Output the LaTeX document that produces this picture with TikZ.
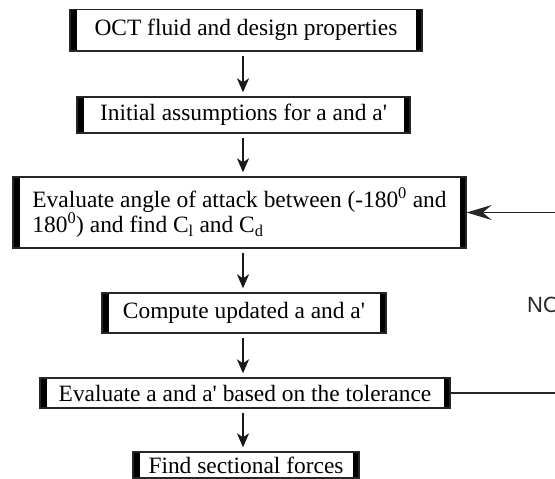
\documentclass[tikz,border=0pt]{standalone}
\usepackage{fontspec}
\setmainfont{Liberation Serif}
\newfontfamily\nofont{Liberation Sans}
\usetikzlibrary{arrows.meta}
\newcommand{\apos}{\textquotesingle}
\begin{document}
\begin{tikzpicture}[x=1pt,y=-1pt,
  txt/.style={font=\fontsize{23.4}{25.5}\selectfont},
  box/.style={txt, draw=black!85, line width=1.3pt, inner sep=0pt, fill=white,
    path picture={
      \fill[black] (path picture bounding box.north west) rectangle ([xshift=6.5pt]path picture bounding box.south west);
      \fill[black] ([xshift=-6.5pt]path picture bounding box.north east) rectangle (path picture bounding box.south east);}},
  flow/.style={-{Stealth[length=14pt,width=12pt,inset=4pt]}, line width=2.2pt, draw=black!90, shorten <=4pt, shorten >=4pt},
  loopline/.style={-{Stealth[length=25pt,width=15pt,inset=9pt]}, line width=1.6pt, draw=black!85},
]
\clip (0,0) rectangle (555,479);
\fill[white] (0,0) rectangle (555,479);

\node[box, minimum width=352pt, minimum height=41.5pt] (b1) at (246,30.25) {OCT fluid and design properties};
\node[box, minimum width=333pt, minimum height=36pt] (b2) at (243.5,115) {Initial assumptions for a and a\apos};
\node[box, minimum width=453pt, minimum height=71pt, align=left] (b3) at (239.5,212.5)
  {Evaluate angle of attack between (-180\textsuperscript{0} and\\180\textsuperscript{0}) and find C\textsubscript{l} and C\textsubscript{d}};
\node[box, minimum width=284pt, minimum height=40pt] (b4) at (244,313) {Compute updated a and a\apos};
\node[box, minimum width=410pt, minimum height=30pt] (b5) at (245,393) {Evaluate a and a\apos{} based on the tolerance};
\node[box, minimum width=226pt, minimum height=26pt] (b6) at (246,465) {Find sectional forces};

\coordinate (ax) at (243,0);
\draw[flow] (b1.south -| ax) -- (b2.north -| ax);
\draw[flow] (b2.south -| ax) -- (b3.north -| ax);
\draw[flow] (b3.south -| ax) -- (b4.north -| ax);
\draw[flow] (b4.south -| ax) -- (b5.north -| ax);
\draw[flow] (b5.south -| ax) -- (b6.north -| ax);

\coordinate (loopr) at (565,393);
\draw[loopline] (b5.east) -- (b5.east -| loopr) -- (b3.east -| loopr) -- (b3.east);

\node[font=\nofont\fontsize{22}{22}\selectfont, anchor=west, inner sep=0pt, text=black!85] (no) at (527,305) {NO};
\end{tikzpicture}
\end{document}
